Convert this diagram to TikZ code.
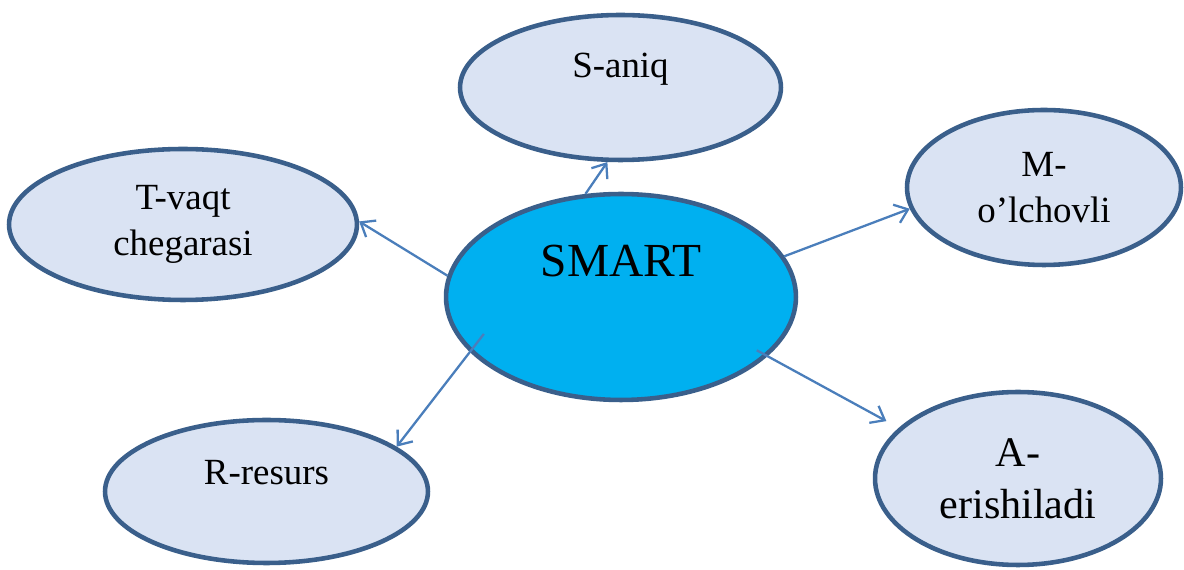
\documentclass[tikz,border=0pt]{standalone}
\usepackage{fontspec}
\setmainfont{Liberation Serif}
\usetikzlibrary{arrows.meta,shapes.geometric}
\definecolor{rim}{HTML}{3A5F8B}
\definecolor{pale}{HTML}{DAE3F3}
\definecolor{sky}{HTML}{00B0F0}
\definecolor{wire}{HTML}{4A7EBB}
\tikzset{%
  idea/.style={ellipse, draw=rim, fill=pale, line width=2.6pt, inner sep=0pt, align=center, font=\fontsize{21}{26}\selectfont},
  hub/.style={idea, fill=sky},
  tag/.style={font=\fontsize{21}{26}\selectfont},
  link/.style={draw=wire, line width=1.3pt, -{Straight Barb[length=7pt,width=11pt]}},
}

\begin{document}
\begin{tikzpicture}
  [
    x=0.02cm, y=-0.02cm,
  ]
  \useasboundingbox (0,0) rectangle (1184,570);

  % centre
  \node (smart) [hub, minimum width=7.0cm, minimum height=4.12cm,
    label={[tag, font=\fontsize{27}{32}\selectfont, yshift=20.4pt]center:SMART}] at (621,297) {};

  % the five letters
  \node (saniq) [idea, minimum width=6.42cm, minimum height=2.9cm,
    label={[tag, yshift=10.5pt]center:S-aniq}] at (620.5,87.5) {};
  \node (tvaqt) [idea, minimum width=6.96cm, minimum height=3.02cm] at (183,224.5) {T-vaqt\\chegarasi};
  \node (mol) [idea, minimum width=5.48cm, minimum height=3.1cm] at (1044,187.5) {M-\\o’lchovli};
  \node (rres) [idea, minimum width=6.46cm, minimum height=2.86cm,
    label={[tag, yshift=11pt]center:R-resurs}] at (266.5,491.5) {};
  \node (aer) [idea, minimum width=5.72cm, minimum height=3.46cm,
    font=\fontsize{24}{29.5}\selectfont] at (1018,478.5) {A-\\erishiladi};

  \draw [link] (smart.109) -- (saniq.260);
  \draw [link] (smart.173) -- (tvaqt.1);
  \draw [link] (smart.14) -- (mol.189);
  \draw [link, shorten <=-13pt] (smart.200) -- (rres.19);
  \draw [link, shorten <=-7pt, shorten >=8pt] (smart.338) -- (aer.157);
\end{tikzpicture}
\end{document}
